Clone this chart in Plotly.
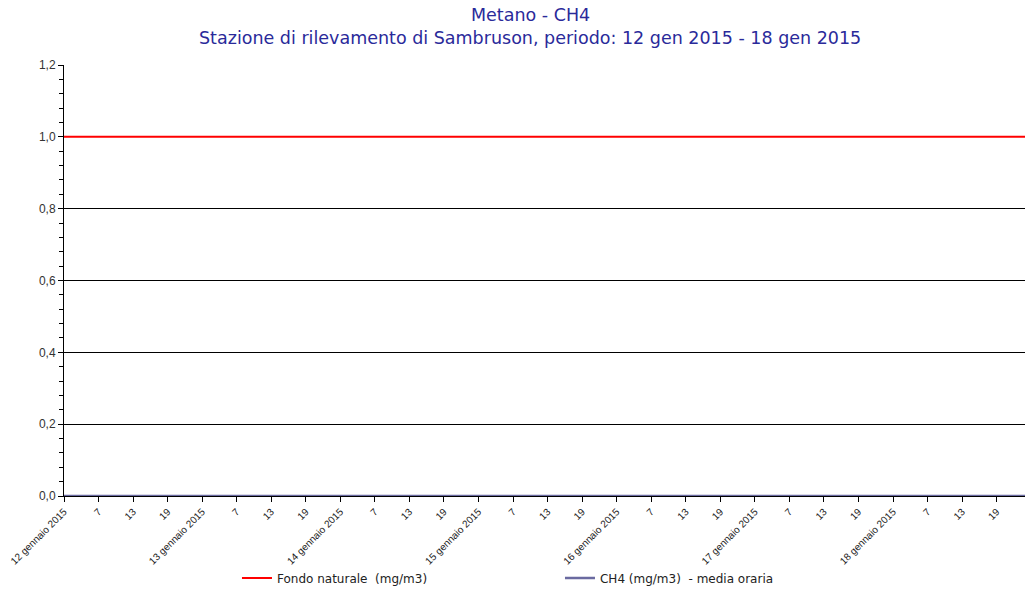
import pandas as pd
import plotly.graph_objects as go

# ---- data ----
hours = pd.date_range("2015-01-12 01:00", "2015-01-19 00:00", freq="h")
fondo_values = [1.0] * len(hours)      # Fondo naturale (mg/m3): constant 1.0
ch4_values = [0.0] * len(hours)        # CH4 media oraria: reads 0.0 throughout

tick_times = pd.date_range("2015-01-12 01:00", "2015-01-18 19:00", freq="6h")
day_names = ["12 gennaio 2015", "13 gennaio 2015", "14 gennaio 2015", "15 gennaio 2015",
             "16 gennaio 2015", "17 gennaio 2015", "18 gennaio 2015"]
hour_labels = ["7", "13", "19"]
tick_labels = []
for d in day_names:
    tick_labels.append(d)
    tick_labels.extend(hour_labels)

y_ticks = [0.0, 0.2, 0.4, 0.6, 0.8, 1.0, 1.2]

title_line1 = "Metano - CH4"
title_line2 = "Stazione di rilevamento di Sambruson, periodo: 12 gen 2015 - 18 gen 2015"

fig = go.Figure()
fig.add_trace(go.Scatter(x=hours, y=fondo_values, mode="lines",
                         name="Fondo naturale  (mg/m3)",
                         line=dict(color="#ff0000", width=2)))
fig.add_trace(go.Scatter(x=hours, y=ch4_values, mode="lines",
                         name="CH4 (mg/m3)  - media oraria",
                         line=dict(color="#6a6aa0", width=2.5)))

title_font = dict(family="DejaVu Sans, Verdana, sans-serif", size=17.5, color="#2a2a9a")
fig.add_annotation(text=title_line1, xref="paper", yref="paper",
                   x=(530 - 64) / 961, y=1 + (65 - 15) / 431,
                   xanchor="center", yanchor="middle", showarrow=False, font=title_font)
fig.add_annotation(text=title_line2, xref="paper", yref="paper",
                   x=(530 - 64) / 961, y=1 + (65 - 38) / 431,
                   xanchor="center", yanchor="middle", showarrow=False, font=title_font)

fig.update_layout(
    width=1025, height=591,
    margin=dict(l=64, r=0, t=65, b=95, autoexpand=False),
    paper_bgcolor="white", plot_bgcolor="white",
    separators=",.",
    font=dict(family="Liberation Sans, Arial, sans-serif", color="#333333"),
    showlegend=True,
    legend=dict(orientation="h", x=0.18, xanchor="left", y=-(578 - 496) / 431, yanchor="middle",
                entrywidth=278, entrywidthmode="pixels",
                font=dict(family="DejaVu Sans, Verdana, sans-serif", size=12, color="#222222"),
                bgcolor="rgba(0,0,0,0)"),
)

fig.update_xaxes(
    range=[pd.Timestamp("2015-01-12 01:00"), pd.Timestamp("2015-01-18 23:55")],
    tickmode="array", tickvals=tick_times, ticktext=tick_labels,
    tickangle=-45, tickfont=dict(size=10, color="#222222"),
    ticks="outside", ticklen=5, tickcolor="black", automargin=False,
    showgrid=False, showline=True, linecolor="black", zeroline=False,
)
fig.update_yaxes(
    range=[0, 1.2], tickmode="array", tickvals=y_ticks, tickformat=".1f",
    tickfont=dict(size=12, color="#333333"), automargin=False,
    ticks="outside", ticklen=5, tickcolor="black",
    minor=dict(dtick=0.04, ticks="outside", ticklen=4, tickcolor="black", showgrid=False),
    showgrid=True, gridcolor="black", gridwidth=1,
    showline=True, linecolor="black", zeroline=False,
)

fig.write_html("out.html", config={"displayModeBar": False},
               post_script="document.body.style.margin='0';document.body.style.overflow='hidden';")
